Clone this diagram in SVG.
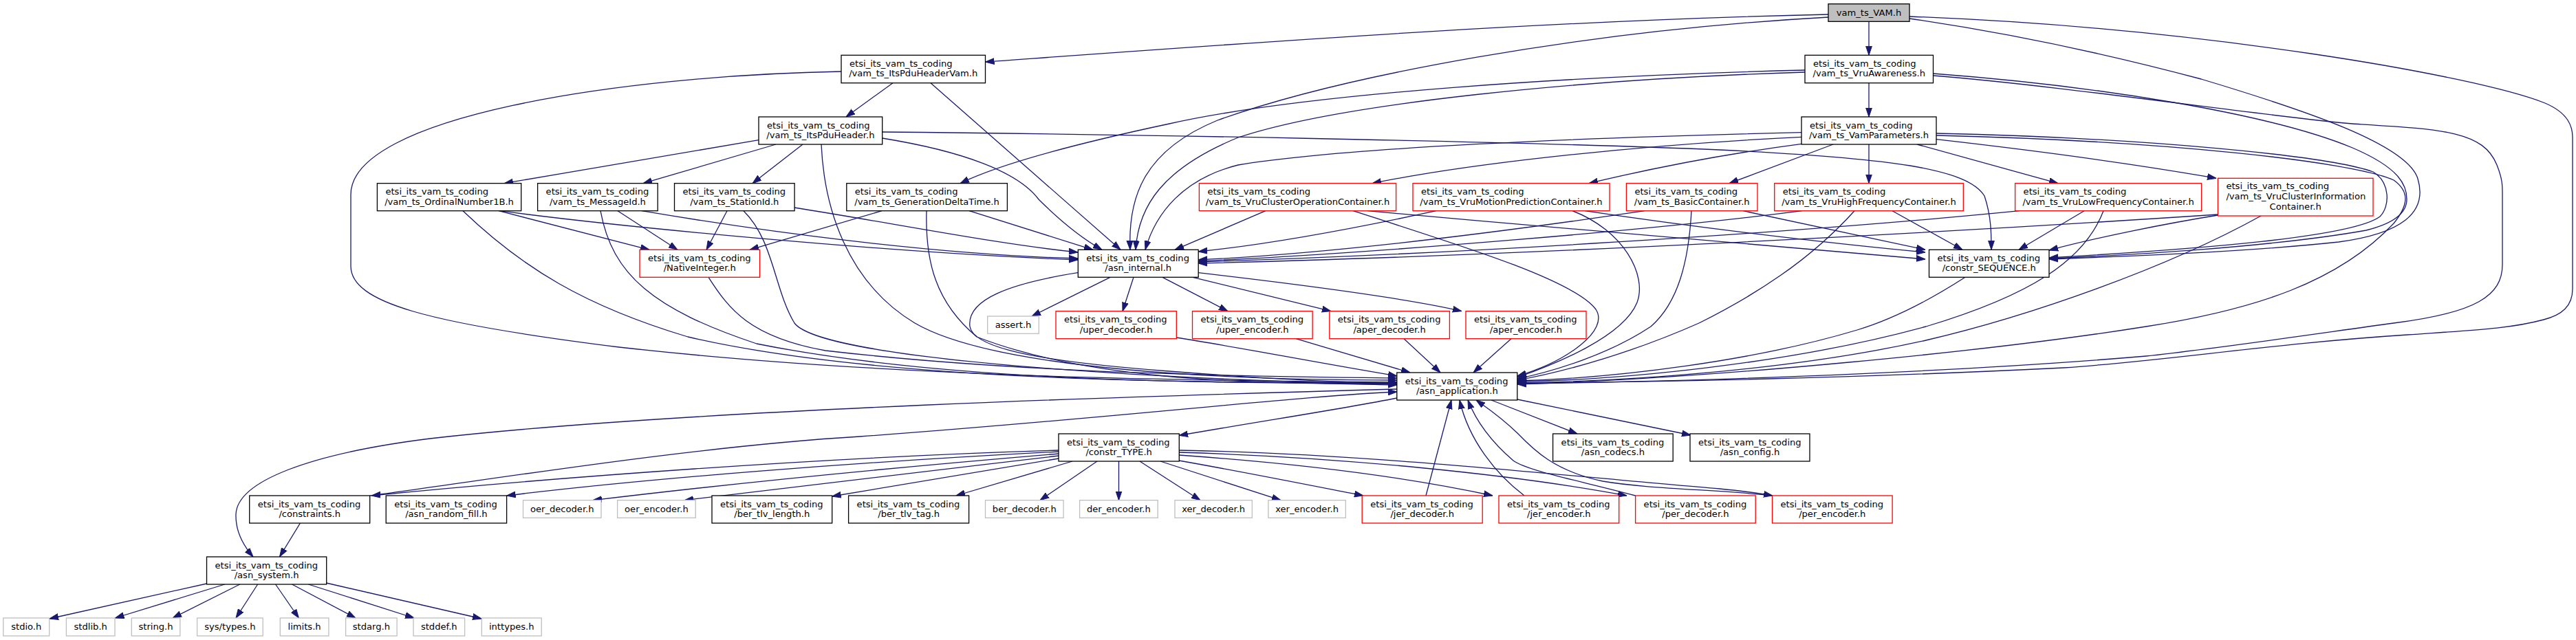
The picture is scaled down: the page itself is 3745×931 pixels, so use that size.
<svg xmlns="http://www.w3.org/2000/svg" width="3745" height="931" viewBox="0 0 3745 931">
<defs>
<marker id="a" viewBox="0 0 13 10" refX="13" refY="5" markerWidth="13" markerHeight="10" markerUnits="userSpaceOnUse" orient="auto"><path d="M0,0.6 L13,5 L0,9.4 z" fill="#191970" stroke="#191970" stroke-width="1"/></marker>
</defs>
<style>
text{font-family:"DejaVu Sans","Liberation Sans",sans-serif;font-size:13.1px;fill:#000}
.n rect{fill:#fff;stroke:#000;stroke-width:1.3}
.r rect{fill:#fff;stroke:#ff0000;stroke-width:1.3}
.x rect{fill:#fff;stroke:#bfbfbf;stroke-width:1.3}
.root rect{fill:#bfbfbf;stroke:#000;stroke-width:1.3}
.m{text-anchor:middle}
#edges path{fill:none;stroke:#191970;stroke-width:1.3;marker-end:url(#a)}
</style>
<rect width="3745" height="931" fill="#fff"/>
<g id="edges">
<path d="M2717,31.3 L2717,80.3"/>
<path d="M2658,21 C2250,30 1850,60 1432.5,90"/>
<path d="M2658,25 C2300,45 1950,110 1770,175 C1660,220 1640,290 1643,363.3"/>
<path d="M2776,27 C2900,45 3050,75 3200,115 C3350,160 3500,210 3515,260 C3530,310 3490,340 3400,352 C3250,368 3060,374 2979,377"/>
<path d="M2776,24 C3200,40 3600,110 3700,150 C3735,165 3740,185 3740,200 L3740,420 C3740,445 3725,458 3698,465 C3650,478 3600,480 3500,487 C3300,500 3150,525 3000,535 C2700,550 2400,556 2206,557"/>
<path d="M1298,120.7 L1230,170"/>
<path d="M1353,120.7 L1629,363.3"/>
<path d="M1223,104 C900,110 510,170 510,283 L510,387 C510,440 620,470 900,505 C1300,550 1750,554 2031,556"/>
<path d="M1103,203.7 L733,266.7"/>
<path d="M1128,210 L935,266.7"/>
<path d="M1167,210 L1094,266.7"/>
<path d="M1282.7,201 C1400,220 1480,250 1510,290 C1540,320 1570,345 1602,363.3"/>
<path d="M1194,210 C1198,300 1230,410 1330,470 C1450,540 1800,553 2031,553"/>
<path d="M1282.7,192 C1600,195 2200,205 2500,218 C2750,230 2860,245 2885,285 C2895,315 2895,340 2895,363.3"/>
<path d="M725,306.7 L944,363.3"/>
<path d="M727,306.7 C900,330 1300,368 1567,378"/>
<path d="M673,306.7 C760,390 850,445 1000,490 C1300,560 1800,556 2031,557"/>
<path d="M898,306.7 L985,363.3"/>
<path d="M933,306.7 C1100,335 1350,370 1567,376"/>
<path d="M873,306.7 C890,400 950,450 1100,500 C1400,560 1800,556 2031,558"/>
<path d="M1057,306.7 L1027,363.3"/>
<path d="M1155,302 C1300,325 1450,355 1567,367"/>
<path d="M1081,306.7 C1125,350 1125,420 1155,470 C1200,530 1800,556 2031,559"/>
<path d="M1409,306.7 L1589,363.3"/>
<path d="M1282,306.7 L1090,363.3"/>
<path d="M1347,306.7 C1345,380 1360,440 1420,490 C1600,560 1850,556 2031,560"/>
<path d="M1030,403.3 C1060,450 1090,490 1200,510 C1500,545 1850,548 2031,550"/>
<path d="M1614,403.3 L1500,460"/>
<path d="M1648,403.3 L1632,452.7"/>
<path d="M1690,403.3 L1785,452.7"/>
<path d="M1734,403.3 L1935,452.7"/>
<path d="M1742,396.7 C1900,415 2050,435 2125,452.7"/>
<path d="M1567,396.7 C1470,412 1405,435 1410,475 C1415,505 1500,525 1700,540 C1850,552 1950,556 2031,558"/>
<path d="M1710,491 C1800,505 1900,525 2031,547"/>
<path d="M1884,492.7 L2050,542"/>
<path d="M2041,492.7 L2094,542"/>
<path d="M2197,492.7 L2142,542"/>
<path d="M2717,120.7 L2717,170"/>
<path d="M2624,102 C2300,110 1900,135 1700,180 C1550,212 1450,240 1396,266.7"/>
<path d="M2624,105 C2300,115 1950,150 1800,200 C1690,245 1655,300 1651,363.3"/>
<path d="M2810.5,107 C3050,125 3300,165 3420,215 C3490,245 3499,270 3499,290 C3499,310 3480,325 3440,335 C3300,360 3080,372 2979,376"/>
<path d="M2810.5,110 C3000,125 3300,170 3420,180 C3550,188 3610,190 3630,240 C3638,260 3638,270 3638,280 L3638,385 C3638,430 3600,455 3480,470 C3350,488 3200,510 3120,518 C2800,545 2400,556 2206,558"/>
<path d="M2717,210 L2717,266.7"/>
<path d="M2665,210 L2514,266.7"/>
<path d="M2787,210 L2992,266.7"/>
<path d="M2815,202.7 C2950,218 3100,238 3222,259.3"/>
<path d="M2619,199.3 C2400,210 2150,235 1995,266.7"/>
<path d="M2619,209.3 C2500,225 2400,245 2310,266.7"/>
<path d="M2619,192.7 C2300,200 1950,215 1800,240 C1720,260 1680,310 1665,363.3"/>
<path d="M2815,194 C3100,200 3380,225 3450,250 C3475,265 3475,300 3460,315 C3420,345 3200,362 2979,375"/>
<path d="M2815,197 C3150,205 3420,235 3480,262 C3505,280 3500,300 3480,325 C3400,410 3280,450 3120,475 C2900,510 2500,550 2206,559"/>
<path d="M1840,306.7 L1708,363.3"/>
<path d="M1967,306.7 C2150,365 2290,410 2320,450 C2340,480 2280,525 2206,547"/>
<path d="M1988,306.7 C2300,335 2650,365 2799,377"/>
<path d="M2088,306.7 C1980,330 1850,355 1742,366"/>
<path d="M2286,306.7 C2360,335 2395,400 2380,440 C2360,490 2260,530 2206,549"/>
<path d="M2304,306.7 C2500,336 2700,358 2799,367"/>
<path d="M2391,306.7 C2200,335 1950,368 1742,378"/>
<path d="M2459,306.7 C2455,380 2440,440 2400,475 C2340,515 2260,540 2206,551"/>
<path d="M2534,306.7 L2799,363.3"/>
<path d="M2620,306.7 C2400,335 2000,368 1742,380"/>
<path d="M2696,306.7 C2630,380 2550,430 2470,470 C2380,510 2280,540 2206,553"/>
<path d="M2751,306.7 L2853,363.3"/>
<path d="M2936,306.7 C2600,340 2100,370 1742,381"/>
<path d="M3030,306.7 L2935,363.3"/>
<path d="M3058,306.7 C3030,380 2950,430 2800,475 C2600,530 2350,553 2206,555"/>
<path d="M3224.4,312 C2800,340 2200,372 1742,383"/>
<path d="M3224.4,313 C3150,325 3050,345 2979,364"/>
<path d="M3287,314 C3150,390 2950,460 2800,495 C2600,540 2350,555 2206,557"/>
<path d="M2857,403.3 C2800,440 2750,465 2700,480 C2550,525 2350,550 2206,554"/>
<path d="M2168,582 L2293,631"/>
<path d="M2206,581 L2458,633"/>
<path d="M2031,579 C1950,595 1850,610 1714,633.5"/>
<path d="M2031,566 C1700,575 1000,595 625,638 C450,660 345,700 343,748 C342,775 355,795 368,810"/>
<path d="M537.7,721 C700,700 1000,650 1250,635 C1600,610 1900,575 2031,570"/>
<path d="M1595,671 L1512,727.7"/>
<path d="M1626.5,671 L1626.5,727.7"/>
<path d="M1657,671 L1745,727.7"/>
<path d="M1687,671 L1862,727.7"/>
<path d="M1559,671 L1390,721"/>
<path d="M1714,670 C1800,685 1900,705 1982,721"/>
<path d="M1714,662 C1900,675 2050,695 2170,721"/>
<path d="M1714,658 C1950,665 2200,690 2365,721"/>
<path d="M1714,655 C2000,660 2300,695 2500,711 C2540,715 2560,718 2577,721"/>
<path d="M1539,655 C1200,665 800,695 540,721"/>
<path d="M1539,657 C1250,672 950,695 736.6,721"/>
<path d="M1539,660 C1300,680 1050,705 862,727.7"/>
<path d="M1539,663 C1350,685 1150,710 995,727.7"/>
<path d="M1539,667 C1400,690 1280,710 1209.7,722"/>
<path d="M2073,721 L2110,582"/>
<path d="M2216,721 C2175,690 2135,640 2122,582"/>
<path d="M2377.6,721 C2300,700 2220,685 2200,670 C2165,640 2145,610 2134,582"/>
<path d="M2576.5,721 C2500,712 2400,712 2330,700 C2260,685 2230,655 2206,630 C2180,605 2160,592 2146,582"/>
<path d="M300.5,849 L72,900"/>
<path d="M326.8,850 L167.4,899"/>
<path d="M348.7,850 L251,899"/>
<path d="M374.6,850 L343,899"/>
<path d="M400.6,850 L434.4,899"/>
<path d="M424.5,850 L517,899"/>
<path d="M448.4,850 L602,899"/>
<path d="M474.3,848 L700,900"/>
<path d="M436.4,761 L406.5,810"/>
</g>
<g id="n_vam" class="root"><rect x="2658" y="5.7" width="118" height="25.6"/><text class="m" x="2717" y="22.5">vam_ts_VAM.h</text></g>
<g id="n_pduvam" class="n"><rect x="1223" y="80.3" width="209.5" height="40.4"/><text x="1235" y="96.8">etsi_its_vam_ts_coding</text><text class="m" x="1327.75" y="111.3">/vam_ts_ItsPduHeaderVam.h</text></g>
<g id="n_vruaw" class="n"><rect x="2624" y="80.3" width="186.5" height="40.4"/><text x="2636" y="96.8">etsi_its_vam_ts_coding</text><text class="m" x="2717.25" y="111.3">/vam_ts_VruAwareness.h</text></g>
<g id="n_pdu" class="n"><rect x="1103" y="170" width="179.7" height="40"/><text x="1115" y="186.5">etsi_its_vam_ts_coding</text><text class="m" x="1192.85" y="201">/vam_ts_ItsPduHeader.h</text></g>
<g id="n_vamp" class="n"><rect x="2619" y="170" width="196" height="40"/><text x="2631" y="186.5">etsi_its_vam_ts_coding</text><text class="m" x="2717" y="201">/vam_ts_VamParameters.h</text></g>
<g id="n_ord" class="n"><rect x="548.4" y="266.7" width="209.3" height="40"/><text x="560.4" y="283.2">etsi_its_vam_ts_coding</text><text class="m" x="653.05" y="297.7">/vam_ts_OrdinalNumber1B.h</text></g>
<g id="n_msg" class="n"><rect x="781.6" y="266.7" width="174.6" height="40"/><text x="793.6" y="283.2">etsi_its_vam_ts_coding</text><text class="m" x="868.9" y="297.7">/vam_ts_MessageId.h</text></g>
<g id="n_sta" class="n"><rect x="980.5" y="266.7" width="174.6" height="40"/><text x="992.5" y="283.2">etsi_its_vam_ts_coding</text><text class="m" x="1067.8" y="297.7">/vam_ts_StationId.h</text></g>
<g id="n_gdt" class="n"><rect x="1230.8" y="266.7" width="233.6" height="40"/><text x="1242.8" y="283.2">etsi_its_vam_ts_coding</text><text class="m" x="1347.6" y="297.7">/vam_ts_GenerationDeltaTime.h</text></g>
<g id="n_vcop" class="r"><rect x="1743.4" y="266.7" width="286.2" height="40"/><text x="1755.4" y="283.2">etsi_its_vam_ts_coding</text><text class="m" x="1886.5" y="297.7">/vam_ts_VruClusterOperationContainer.h</text></g>
<g id="n_vmp" class="r"><rect x="2054" y="266.7" width="286" height="40"/><text x="2066" y="283.2">etsi_its_vam_ts_coding</text><text class="m" x="2197" y="297.7">/vam_ts_VruMotionPredictionContainer.h</text></g>
<g id="n_basic" class="r"><rect x="2364.4" y="266.7" width="190.6" height="40"/><text x="2376.4" y="283.2">etsi_its_vam_ts_coding</text><text class="m" x="2459.7" y="297.7">/vam_ts_BasicContainer.h</text></g>
<g id="n_vhf" class="r"><rect x="2579.7" y="266.7" width="274.6" height="40"/><text x="2591.7" y="283.2">etsi_its_vam_ts_coding</text><text class="m" x="2717" y="297.7">/vam_ts_VruHighFrequencyContainer.h</text></g>
<g id="n_vlf" class="r"><rect x="2929.6" y="266.7" width="270.9" height="40"/><text x="2941.6" y="283.2">etsi_its_vam_ts_coding</text><text class="m" x="3065.05" y="297.7">/vam_ts_VruLowFrequencyContainer.h</text></g>
<g id="n_vci" class="r"><rect x="3224.4" y="259.3" width="225.6" height="54.7"/><text x="3236.4" y="275">etsi_its_vam_ts_coding</text><text x="3236.4" y="290">/vam_ts_VruClusterInformation</text><text class="m" x="3337.2" y="305">Container.h</text></g>
<g id="n_nint" class="r"><rect x="930" y="363.3" width="174.5" height="40"/><text x="942" y="379.8">etsi_its_vam_ts_coding</text><text class="m" x="1017.25" y="394.3">/NativeInteger.h</text></g>
<g id="n_aint" class="n"><rect x="1567.3" y="363.3" width="174.9" height="40"/><text x="1579.3" y="379.8">etsi_its_vam_ts_coding</text><text class="m" x="1654.75" y="394.3">/asn_internal.h</text></g>
<g id="n_cseq" class="n"><rect x="2804.5" y="363.3" width="174.5" height="40"/><text x="2816.5" y="379.8">etsi_its_vam_ts_coding</text><text class="m" x="2891.75" y="394.3">/constr_SEQUENCE.h</text></g>
<g id="n_assert" class="x"><rect x="1435.7" y="460" width="74.6" height="25.3"/><text class="m" x="1473" y="476.8">assert.h</text></g>
<g id="n_uperd" class="r"><rect x="1535" y="452.7" width="175.3" height="40"/><text x="1547" y="469.2">etsi_its_vam_ts_coding</text><text class="m" x="1622.65" y="483.7">/uper_decoder.h</text></g>
<g id="n_upere" class="r"><rect x="1733.5" y="452.7" width="174.6" height="40"/><text x="1745.5" y="469.2">etsi_its_vam_ts_coding</text><text class="m" x="1820.8" y="483.7">/uper_encoder.h</text></g>
<g id="n_aperd" class="r"><rect x="1932.8" y="452.7" width="174.6" height="40"/><text x="1944.8" y="469.2">etsi_its_vam_ts_coding</text><text class="m" x="2020.1" y="483.7">/aper_decoder.h</text></g>
<g id="n_apere" class="r"><rect x="2131" y="452.7" width="175" height="40"/><text x="2143" y="469.2">etsi_its_vam_ts_coding</text><text class="m" x="2218.5" y="483.7">/aper_encoder.h</text></g>
<g id="n_app" class="n"><rect x="2030.8" y="542" width="175" height="40"/><text x="2042.8" y="558.5">etsi_its_vam_ts_coding</text><text class="m" x="2118.3" y="573">/asn_application.h</text></g>
<g id="n_ctype" class="n"><rect x="1539" y="631" width="175.3" height="40"/><text x="1551" y="647.5">etsi_its_vam_ts_coding</text><text class="m" x="1626.65" y="662">/constr_TYPE.h</text></g>
<g id="n_codecs" class="n"><rect x="2257.6" y="631" width="174.6" height="40"/><text x="2269.6" y="647.5">etsi_its_vam_ts_coding</text><text class="m" x="2344.9" y="662">/asn_codecs.h</text></g>
<g id="n_config" class="n"><rect x="2457" y="631" width="174" height="40"/><text x="2469" y="647.5">etsi_its_vam_ts_coding</text><text class="m" x="2544" y="662">/asn_config.h</text></g>
<g id="n_constr" class="n"><rect x="362.7" y="721" width="175" height="40"/><text x="374.7" y="737.5">etsi_its_vam_ts_coding</text><text class="m" x="450.2" y="752">/constraints.h</text></g>
<g id="n_rand" class="n"><rect x="561.2" y="721" width="175.4" height="40"/><text x="573.2" y="737.5">etsi_its_vam_ts_coding</text><text class="m" x="648.9" y="752">/asn_random_fill.h</text></g>
<g id="n_oerd" class="x"><rect x="760.5" y="727.7" width="113.5" height="25.6"/><text class="m" x="817.25" y="744.5">oer_decoder.h</text></g>
<g id="n_oere" class="x"><rect x="897.6" y="727.7" width="113.6" height="25.6"/><text class="m" x="954.4" y="744.5">oer_encoder.h</text></g>
<g id="n_berlen" class="n"><rect x="1035" y="721" width="174.7" height="40"/><text x="1047" y="737.5">etsi_its_vam_ts_coding</text><text class="m" x="1122.35" y="752">/ber_tlv_length.h</text></g>
<g id="n_bertag" class="n"><rect x="1233.6" y="721" width="175" height="40"/><text x="1245.6" y="737.5">etsi_its_vam_ts_coding</text><text class="m" x="1321.1" y="752">/ber_tlv_tag.h</text></g>
<g id="n_berd" class="x"><rect x="1432.5" y="727.7" width="113.6" height="25.6"/><text class="m" x="1489.3" y="744.5">ber_decoder.h</text></g>
<g id="n_dere" class="x"><rect x="1569.6" y="727.7" width="113.6" height="25.6"/><text class="m" x="1626.4" y="744.5">der_encoder.h</text></g>
<g id="n_xerd" class="x"><rect x="1708" y="727.7" width="112.3" height="25.6"/><text class="m" x="1764.15" y="744.5">xer_decoder.h</text></g>
<g id="n_xere" class="x"><rect x="1843.9" y="727.7" width="112.4" height="25.6"/><text class="m" x="1900.1" y="744.5">xer_encoder.h</text></g>
<g id="n_jerd" class="r"><rect x="1980.2" y="721" width="175" height="40"/><text x="1992.2" y="737.5">etsi_its_vam_ts_coding</text><text class="m" x="2067.7" y="752">/jer_decoder.h</text></g>
<g id="n_jere" class="r"><rect x="2179" y="721" width="174.7" height="40"/><text x="2191" y="737.5">etsi_its_vam_ts_coding</text><text class="m" x="2266.35" y="752">/jer_encoder.h</text></g>
<g id="n_perd" class="r"><rect x="2377.6" y="721" width="174.6" height="40"/><text x="2389.6" y="737.5">etsi_its_vam_ts_coding</text><text class="m" x="2464.9" y="752">/per_decoder.h</text></g>
<g id="n_pere" class="r"><rect x="2576.5" y="721" width="174.6" height="40"/><text x="2588.5" y="737.5">etsi_its_vam_ts_coding</text><text class="m" x="2663.8" y="752">/per_encoder.h</text></g>
<g id="n_sys" class="n"><rect x="300.5" y="810" width="174.2" height="40"/><text x="312.5" y="826.5">etsi_its_vam_ts_coding</text><text class="m" x="387.6" y="841">/asn_system.h</text></g>
<g id="n_stdio" class="x"><rect x="4.8" y="899" width="66.9" height="26"/><text class="m" x="38.25" y="916">stdio.h</text></g>
<g id="n_stdlib" class="x"><rect x="96.4" y="899" width="70.6" height="26"/><text class="m" x="131.7" y="916">stdlib.h</text></g>
<g id="n_string" class="x"><rect x="191.3" y="899" width="70.5" height="26"/><text class="m" x="226.55" y="916">string.h</text></g>
<g id="n_systypes" class="x"><rect x="286.6" y="899" width="95.6" height="26"/><text class="m" x="334.4" y="916">sys/types.h</text></g>
<g id="n_limits" class="x"><rect x="407.3" y="899" width="70.6" height="26"/><text class="m" x="442.6" y="916">limits.h</text></g>
<g id="n_stdarg" class="x"><rect x="502.6" y="899" width="74.5" height="26"/><text class="m" x="539.85" y="916">stdarg.h</text></g>
<g id="n_stddef" class="x"><rect x="601" y="899" width="74.6" height="26"/><text class="m" x="638.3" y="916">stddef.h</text></g>
<g id="n_inttypes" class="x"><rect x="700.3" y="899" width="86.9" height="26"/><text class="m" x="743.75" y="916">inttypes.h</text></g>
</svg>
